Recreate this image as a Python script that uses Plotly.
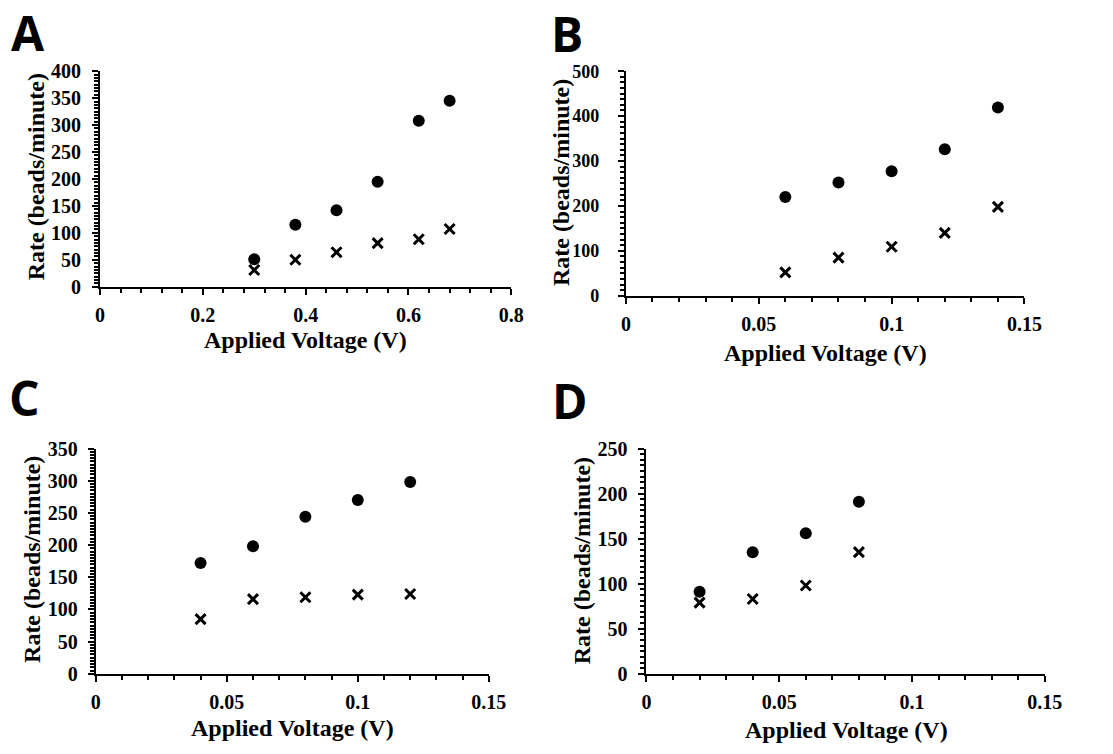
import plotly.graph_objects as go

# ---------------- data ----------------
a_voltage = [0.30, 0.38, 0.46, 0.54, 0.62, 0.68]
a_circle = [51, 115, 142, 195, 308, 345]
a_cross = [31, 50, 64, 81, 88, 107]

b_voltage = [0.06, 0.08, 0.10, 0.12, 0.14]
b_circle = [220, 252, 277, 326, 419]
b_cross = [52, 85, 109, 140, 198]

c_voltage = [0.04, 0.06, 0.08, 0.10, 0.12]
c_circle = [172, 198, 244, 270, 298]
c_cross = [85, 116, 119, 123, 124]

d_voltage = [0.02, 0.04, 0.06, 0.08]
d_circle = [91, 135, 156, 191]
d_cross = [79, 83, 98, 135]

panel_letters = ["A", "B", "C", "D"]
x_title = "Applied Voltage (V)"
y_title = "Rate (beads/minute)"

W, H = 1113, 754

def px_x(p):
    return p / W

def px_y(p):
    return 1 - p / H

# panel geometry in pixels: (x0, x1, ytop, ybottom)
panels = [
    dict(data=(a_voltage, a_circle, a_cross), box=(97, 517, 62, 284),
         xr=[0, 0.8], xd=0.2, xm=0.04, yr=[0, 400], yd=50, ym=6.25, ystand=7, yfs=20,
         letter=(4, 22), xt=(307, 339), yt=(32, 171)),
    dict(data=(b_voltage, b_circle, b_cross), box=(634, 1041, 62, 293.3),
         xr=[0, 0.15], xd=0.05, xm=0.01, yr=[0, 500], yd=100, ym=12.5, ystand=15, yfs=18,
         letter=(555, 23), xt=(838, 352), yt=(568, 177)),
    dict(data=(c_voltage, c_circle, c_cross), box=(92.7, 494, 450.7, 682.7),
         xr=[0, 0.15], xd=0.05, xm=0.01, yr=[0, 350], yd=50, ym=5, ystand=6, yfs=20,
         letter=(2, 398), xt=(294, 739), yt=(27, 565)),
    dict(data=(d_voltage, d_circle, d_cross), box=(655, 1061.7, 450.7, 682.7),
         xr=[0, 0.15], xd=0.05, xm=0.01, yr=[0, 250], yd=50, ym=6.25, ystand=7, yfs=20,
         letter=(556, 401), xt=(859, 741), yt=(590, 566)),
]

title_font = dict(family="Liberation Serif", size=24, color="black", weight="bold")
letter_font = dict(family="Open Sans", size=48, color="black", weight="bold")

def tick_font(size):
    return dict(family="Liberation Serif", size=size, color="black", weight="bold")

fig = go.Figure()
layout = dict(width=W, height=H, margin=dict(l=0, r=0, t=0, b=0),
              paper_bgcolor="white", plot_bgcolor="white", showlegend=False)
annotations = []

for i, p in enumerate(panels):
    n = 2 * i + 1          # main axes index
    m = 2 * i + 2          # overlay axes index (inner half of crossing ticks)
    xn = "x" if n == 1 else f"x{n}"
    yn = "y" if n == 1 else f"y{n}"
    xk = "xaxis" if n == 1 else f"xaxis{n}"
    yk = "yaxis" if n == 1 else f"yaxis{n}"
    x0, x1, yt, yb = p["box"]
    v, circ, cross = p["data"]

    fig.add_trace(go.Scatter(x=v, y=circ, mode="markers", xaxis=xn, yaxis=yn,
                             marker=dict(symbol="circle", size=12, color="black")))
    fig.add_trace(go.Scatter(x=v, y=cross, mode="markers", xaxis=xn, yaxis=yn,
                             marker=dict(symbol="x-thin", size=10, color="black",
                                         line=dict(width=3, color="black"))))

    common = dict(showgrid=False, zeroline=False, showline=True, linecolor="black",
                  linewidth=2, ticks="outside", ticklen=6, tickwidth=2,
                  tickcolor="black", fixedrange=True)
    layout[xk] = dict(common, domain=[px_x(x0), px_x(x1)], range=p["xr"],
                      tick0=0, dtick=p["xd"], anchor=yn, ticklabelstandoff=3,
                      tickfont=tick_font(20),
                      minor=dict(dtick=p["xm"], tick0=0, ticks="outside", ticklen=4,
                                 tickwidth=1.5, tickcolor="black"))
    layout[yk] = dict(common, domain=[px_y(yb), px_y(yt)], range=p["yr"],
                      tick0=0, dtick=p["yd"], anchor=xn, ticklabelstandoff=p["ystand"],
                      tickfont=tick_font(p["yfs"]),
                      minor=dict(dtick=p["ym"], tick0=0, ticks="outside", ticklen=4,
                                 tickwidth=1.5, tickcolor="black"))
    # overlay axes drawing the inner half of the major ticks
    layout[f"xaxis{m}"] = dict(overlaying=xn, anchor=yn, range=p["xr"], tick0=0,
                               dtick=p["xd"], ticks="inside", ticklen=6, tickwidth=2,
                               tickcolor="black", showticklabels=False, showline=False,
                               showgrid=False, zeroline=False, fixedrange=True)
    layout[f"yaxis{m}"] = dict(overlaying=yn, anchor=xn, range=p["yr"], tick0=0,
                               dtick=p["yd"], ticks="inside", ticklen=6, tickwidth=2,
                               tickcolor="black", showticklabels=False, showline=False,
                               showgrid=False, zeroline=False, fixedrange=True, side="left")
    lx, ly = p["letter"]
    annotations.append(dict(text=panel_letters[i], x=px_x(lx), y=px_y(ly),
                            xref="paper", yref="paper", xanchor="left", yanchor="middle",
                            showarrow=False, font=letter_font))
    tx, ty = p["xt"]
    annotations.append(dict(text=x_title, x=px_x(tx), y=px_y(ty), xref="paper",
                            yref="paper", xanchor="center", yanchor="middle",
                            showarrow=False, font=title_font))
    tx, ty = p["yt"]
    annotations.append(dict(text=y_title, x=px_x(tx), y=px_y(ty), xref="paper",
                            yref="paper", xanchor="center", yanchor="middle",
                            textangle=-90, showarrow=False, font=title_font))

layout["annotations"] = annotations
fig.update_layout(**layout)
fig.write_html("out.html")
